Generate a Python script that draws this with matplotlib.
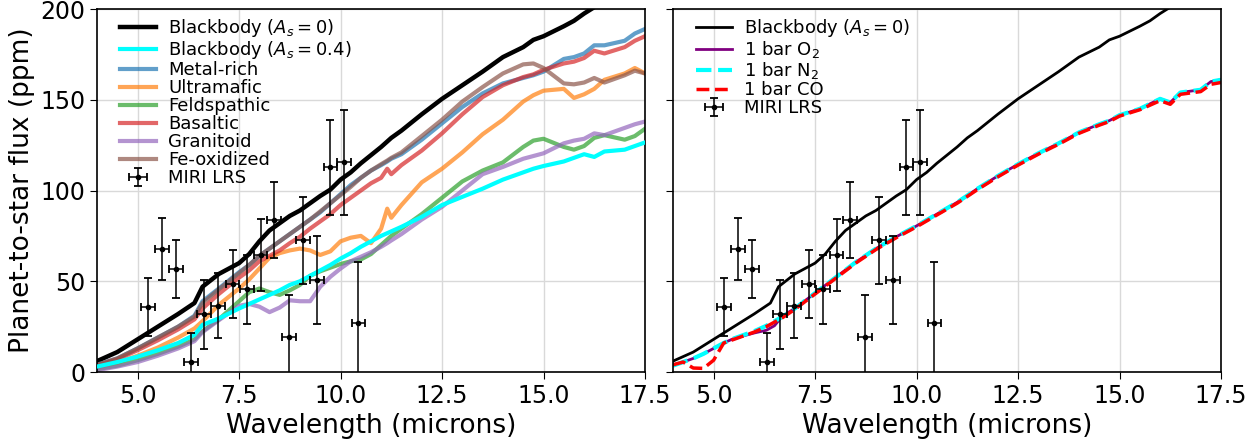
import matplotlib
matplotlib.use('Agg')
import matplotlib.pyplot as plt
from matplotlib.ticker import MultipleLocator

# common wavelength grid (microns) for the left panel curves
wavelength = [4.0, 4.5, 5.0, 5.5, 6.0, 6.4, 6.6, 7.0, 7.5, 7.75, 8.0, 8.25, 8.5, 8.75, 9.0,
              9.25, 9.5, 9.75, 10.0, 10.25, 10.5, 10.75, 11.0, 11.15, 11.25, 11.5, 12.0,
              12.5, 13.0, 13.5, 14.0, 14.5, 14.75, 15.0, 15.5, 15.75, 16.0, 16.25, 16.5,
              17.0, 17.25, 17.5]

blackbody0 = [6, 11, 18, 25, 32, 38, 47, 54, 60, 65, 72, 78, 82, 86, 89, 93, 97, 100.5, 106,
              110, 115, 119.5, 124, 127, 129, 133, 142, 150.5, 158, 165.5, 173.5, 179, 183,
              185, 190.5, 193.5, 197.5, 201, 203.5, 208, 210.5, 213]
blackbody04 = [3, 5.5, 8.5, 12, 16, 20.5, 26, 29.5, 35, 37.5, 40, 42.5, 45, 48, 50, 53, 56,
               59, 62.5, 65.5, 69, 72, 75, 76.5, 77.5, 80, 85.5, 92, 96.5, 101, 106, 110, 112,
               113.5, 116, 118, 120, 118.5, 121.5, 122.5, 124.5, 126.5]
metalRich = [4, 7.5, 13, 19, 25, 31, 39, 46, 55, 59, 64, 68, 72, 76, 80, 84, 88, 93, 98, 103,
             107, 111, 114, 116, 117.5, 120, 128, 137, 146, 153.5, 159, 162, 163.5, 165.5,
             172.5, 173.5, 175.5, 180, 180, 182.5, 186.5, 189]
ultramafic = [2.5, 5, 9, 13.5, 19, 24, 28, 37, 46, 51, 57, 63, 65.5, 67, 68, 67, 64.5, 66.5,
              72, 74, 75, 71, 79, 90, 85, 92, 104.5, 112, 121, 131, 139, 149, 152.5, 155, 156,
              151, 153, 156, 161, 164.5, 167.5, 164.5]
feldspathic = [1.5, 3.5, 6.5, 10, 14, 18, 22.5, 29, 39, 44, 46, 44, 42.5, 45, 48, 53, 55.5,
               57.5, 59.5, 61, 62, 65, 70, 73, 75, 79, 87, 96, 105, 111, 115.5, 124, 127.5,
               128.5, 124, 122.5, 124.5, 129, 130.5, 128, 130, 134]
basaltic = [3.5, 7, 12, 17.5, 23.5, 29, 35, 43, 52, 56, 61, 64, 67, 71, 74.5, 79, 83, 87, 92,
            96, 100, 104, 107, 112, 109, 114, 122, 131.5, 142, 151.5, 158, 162.5, 164, 166.5,
            170, 171, 173, 177, 175.5, 179, 182.5, 185]
granitoid = [1, 3, 5.5, 9, 13, 17, 22, 28.5, 36.5, 37.5, 36, 33, 35.5, 39.5, 39, 39, 47, 52.5,
             57, 61, 63.5, 66, 69, 71, 72.5, 76, 84, 91, 100, 109, 113, 117.5, 119, 120.5,
             126, 127.5, 128.5, 131.5, 130.5, 134.5, 136.5, 138]
feOxidized = [4, 7.5, 13, 19, 25, 30.5, 38, 45.5, 54.5, 59, 64, 68, 72, 76, 80, 84, 88.5, 93,
              97.5, 102, 107, 111, 114.5, 116.5, 118, 121, 130, 139, 149, 157, 164.5, 169.5,
              170, 167.5, 159, 158.5, 159.5, 162, 159.5, 163.5, 166, 164.5]

# atmosphere models (right panel)
wlAtm = [4.0, 4.25, 4.5, 4.75, 5.0, 5.25, 5.5, 6.0, 6.3, 6.5, 6.7, 7.0, 7.5, 8.0, 8.5, 9.0,
         9.5, 10.0, 10.5, 11.0, 11.5, 12.0, 12.5, 13.0, 13.5, 14.0, 14.5, 14.75, 15.0, 15.5,
         16.0, 16.25, 16.5, 17.0, 17.25, 17.5]
o2Bar = [3.5, 5.5, 7.5, 10, 13, 16, 18.5, 21.5, 23, 25.5, 31, 35, 43.5, 52, 60.5, 68, 74.5,
         80.5, 87, 93.5, 101, 108, 114.5, 120.5, 126, 132, 136.5, 138.5, 141.5, 145, 150.5,
         148.5, 154, 155.5, 160, 161]
n2Bar = [3.5, 5.5, 7.5, 10, 13, 16, 18.5, 22.5, 25.5, 28, 30.5, 35, 43.5, 52, 60.5, 68, 74.5,
         80.5, 87, 93.5, 101, 108, 114.5, 120.5, 126, 132, 136.5, 138.5, 141.5, 145, 150.5,
         148.5, 154, 155.5, 160, 161]
coBar = [4, 5.5, 2.2, 2, 6.5, 16, 18, 22, 25, 27.5, 30, 34.5, 43, 51.5, 60, 67.5, 74, 80, 86.5,
         93, 100.5, 107.5, 114, 120, 125.5, 131.5, 136, 138, 141, 144.5, 149.5, 147.5, 153,
         154.5, 158.5, 159.5]

# MIRI LRS eclipse depths
miriWl = [5.25, 5.61, 5.95, 6.31, 6.63, 6.98, 7.34, 7.69, 8.03, 8.37, 8.73, 9.07, 9.42, 9.75,
          10.09, 10.44]
miriFlux = [35.6, 67.8, 56.7, 5.7, 31.7, 36.6, 48.5, 45.5, 64.5, 83.7, 19.5, 72.7, 50.7,
            112.7, 115.5, 26.8]
miriErr = [16, 17, 16, 16, 19, 18, 19, 19, 20, 21, 23, 24, 24, 26, 29, 34]
miriBin = 0.17

surfaces = [('Metal-rich', metalRich), ('Ultramafic', ultramafic),
            ('Feldspathic', feldspathic), ('Basaltic', basaltic),
            ('Granitoid', granitoid), ('Fe-oxidized', feOxidized)]
surfColors = ['tab:blue', 'tab:orange', 'tab:green', 'tab:red', 'tab:purple', 'tab:brown']


def plotMiri(ax):
    ax.errorbar(miriWl, miriFlux, yerr=miriErr, xerr=miriBin, fmt='o', color='k', ms=3,
                elinewidth=1.1, capsize=3, capthick=1.3, label='MIRI LRS', zorder=10)


def styleAxis(ax):
    ax.set_xlim(4, 17.5)
    ax.set_ylim(0, 200)
    ax.xaxis.set_major_locator(MultipleLocator(2.5))
    ax.yaxis.set_major_locator(MultipleLocator(50))
    ax.grid(color='0.85', lw=1)
    ax.set_axisbelow(True)
    ax.tick_params(labelsize=17, length=5)
    ax.set_xlabel('Wavelength (microns)', fontsize=19)
    for sp in ax.spines.values():
        sp.set_linewidth(1.2)


def addLegend(ax):
    ax.legend(loc='upper left', bbox_to_anchor=(0.018, 1.012), frameon=False, fontsize=13,
              labelspacing=0.0, handletextpad=0.7, borderaxespad=0.3)


fig = plt.figure(figsize=(12.5, 4.48), dpi=100)
axL = fig.add_axes([0.0776, 0.1696, 0.4384, 0.8103])
axR = fig.add_axes([0.5384, 0.1696, 0.4384, 0.8103], sharey=axL)

#Left panel: bare rock surfaces
axL.plot(wavelength, blackbody0, color='k', lw=3.2, label=r'Blackbody ($A_s = 0$)')
axL.plot(wavelength, blackbody04, color='cyan', lw=3, label=r'Blackbody ($A_s = 0.4$)',
         zorder=3)
for (name, flux), col in zip(surfaces, surfColors):
    axL.plot(wavelength, flux, color=col, lw=3, alpha=0.7, label=name)
plotMiri(axL)
styleAxis(axL)
axL.set_ylabel('Planet-to-star flux (ppm)', fontsize=19)
addLegend(axL)

#Right panel: atmospheres
axR.plot(wavelength, blackbody0, color='k', lw=2, label=r'Blackbody ($A_s = 0$)')
axR.plot(wlAtm, o2Bar, color='purple', lw=2, label='1 bar O$_2$')
axR.plot(wlAtm, n2Bar, color='cyan', lw=3, ls='--', label='1 bar N$_2$')
axR.plot(wlAtm, coBar, color='red', lw=2.5, ls='--', label='1 bar CO')
plotMiri(axR)
styleAxis(axR)
axR.tick_params(labelleft=False)
addLegend(axR)

fig.savefig('out.png', dpi=100)
